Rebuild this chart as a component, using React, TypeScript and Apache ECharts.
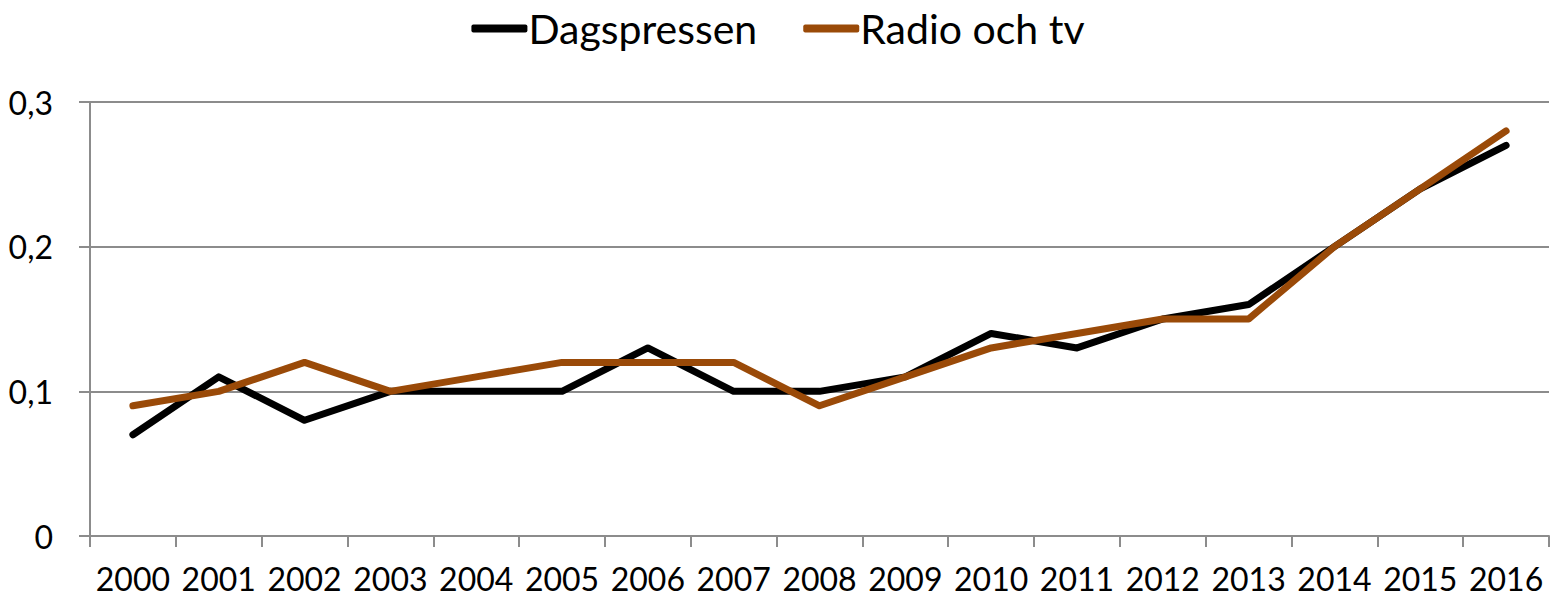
import React, { useEffect, useRef } from "react";
import * as echarts from "echarts";

const years = ["2000","2001","2002","2003","2004","2005","2006","2007","2008","2009","2010","2011","2012","2013","2014","2015","2016"];
const dagspressen = [0.07,0.11,0.08,0.10,0.10,0.10,0.13,0.10,0.10,0.11,0.14,0.13,0.15,0.16,0.20,0.24,0.27];
const radioTv = [0.09,0.10,0.12,0.10,0.11,0.12,0.12,0.12,0.09,0.11,0.13,0.14,0.15,0.15,0.20,0.24,0.28];
const seriesNames = ["Dagspressen", "Radio och tv"];

export default function App() {
  const ref = useRef<HTMLDivElement>(null);
  useEffect(() => {
    const chart = echarts.init(ref.current!, null, { renderer: "svg" });
    const font = "Lato";
    chart.setOption({
      animation: false,
      legend: {
        top: 3,
        left: "center",
        itemWidth: 56,
        itemHeight: 8,
        itemGap: 46,
        icon: "roundRect",
        textStyle: { fontFamily: font, fontSize: 41, color: "#000", padding: [0, 0, 0, -4] },
        data: seriesNames,
      },
      grid: { left: 90, right: 7, top: 102, bottom: 64 },
      xAxis: {
        type: "category",
        data: years,
        boundaryGap: true,
        axisLine: { lineStyle: { color: "#8c8c8c", width: 2 } },
        axisTick: { show: true, length: 11, lineStyle: { color: "#8c8c8c", width: 2 } },
        axisLabel: { fontFamily: font, fontSize: 32, color: "#000", margin: 26, interval: 0 },
      },
      yAxis: {
        type: "value",
        min: 0,
        max: 0.3,
        interval: 0.1,
        axisLine: { show: true, lineStyle: { color: "#8c8c8c", width: 2 } },
        axisTick: { show: true, length: 11, lineStyle: { color: "#8c8c8c", width: 2 } },
        splitLine: { lineStyle: { color: "#8c8c8c", width: 2 } },
        axisLabel: {
          fontFamily: font,
          fontSize: 32,
          color: "#000",
          margin: 37,
          formatter: (v: number) => (v === 0 ? "0" : v.toFixed(1).replace(".", ",")),
        },
      },
      series: [
        {
          name: seriesNames[0],
          type: "line",
          data: dagspressen,
          symbol: "none",
          lineStyle: { color: "#000000", width: 7, cap: "round", join: "round" },
          itemStyle: { color: "#000000" },
        },
        {
          name: seriesNames[1],
          type: "line",
          data: radioTv,
          symbol: "none",
          lineStyle: { color: "#9a4a08", width: 7, cap: "round", join: "round" },
          itemStyle: { color: "#9a4a08" },
        },
      ],
    });
    return () => chart.dispose();
  }, []);
  return <div ref={ref} style={{ position: "absolute", left: 0, top: 0, width: 1556, height: 600 }} />;
}
